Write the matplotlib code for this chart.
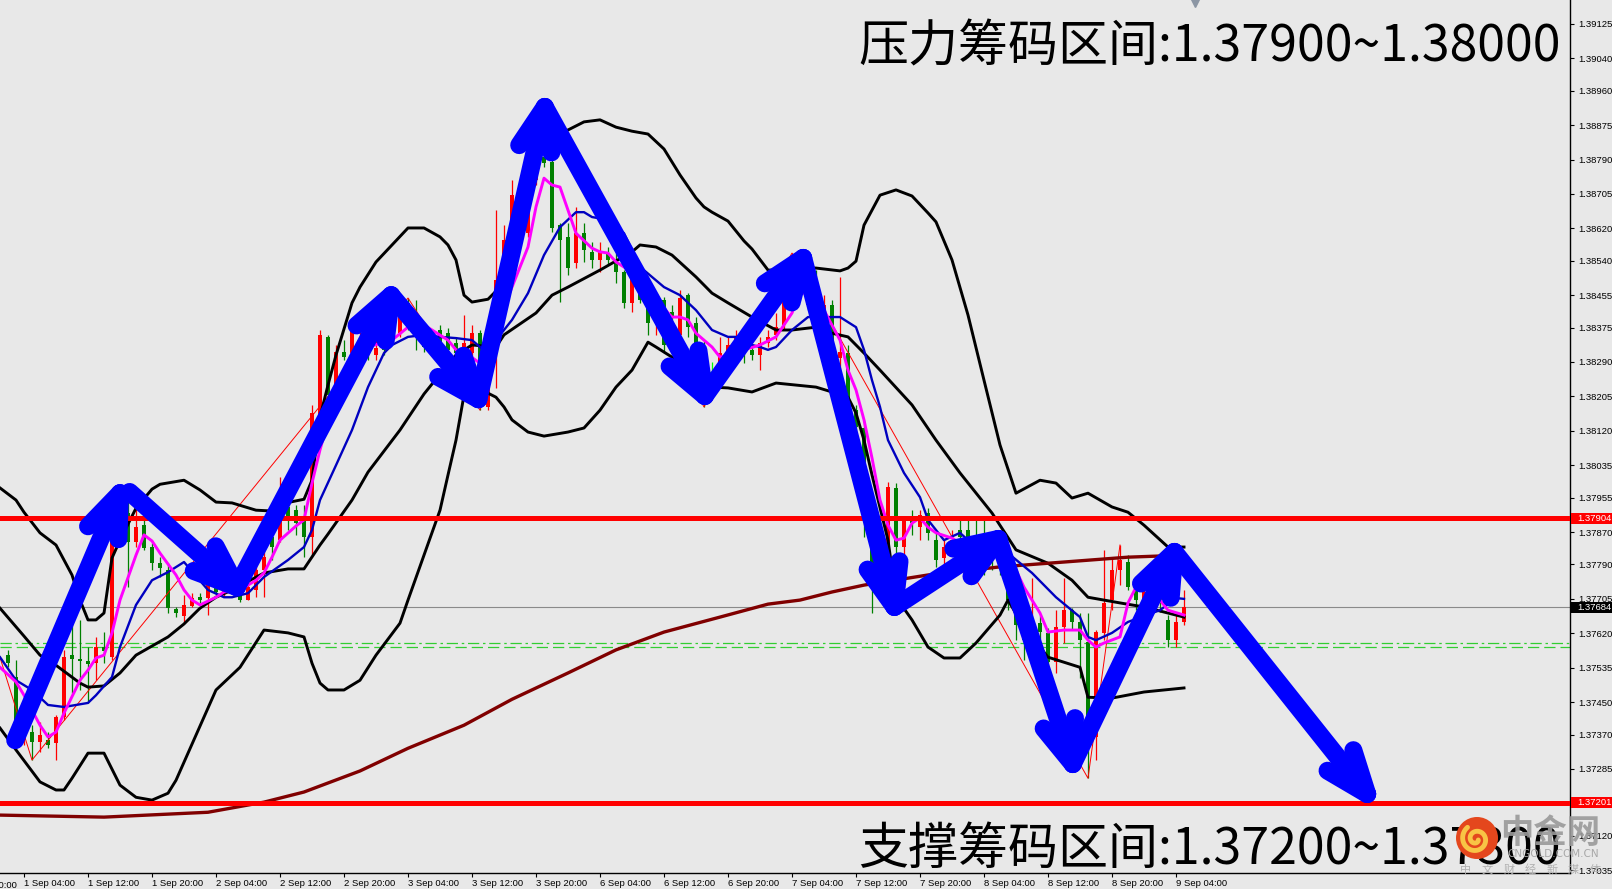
import numpy as np
import matplotlib
matplotlib.use("Agg")
import matplotlib.pyplot as plt
import matplotlib.transforms as mtransforms
from matplotlib.patches import Rectangle, Circle

plt.rcParams['font.family'] = ['Liberation Sans', 'DejaVu Sans']
CJK = ['Noto Sans CJK SC', 'DejaVu Sans']
BG = '#e8e8e8'

# H1 candles, bar 3 = 1 Sep 04:00
bars = np.arange(1, 149)
opens = [1.37566,1.37512,1.37356,1.37376,1.37351,1.37356,1.37349,1.37413,1.37566,1.37556,
         1.37551,1.37546,1.37586,1.37561,1.37900,1.37917,1.37845,1.37887,1.37833,1.37793,
         1.37776,1.37680,1.37662,1.37687,1.37709,1.37707,1.37732,1.37722,1.37737,1.37714,
         1.37702,1.37727,1.37776,1.37858,1.37850,1.37932,1.37924,1.37900,1.37858,1.38147,
         1.38352,1.38228,1.38315,1.38312,1.38369,1.38344,1.38307,1.38332,1.38361,1.38361,
         1.38436,1.38406,1.38361,1.38327,1.38369,1.38361,1.38337,1.38312,1.38312,1.38361,
         1.38179,1.38312,1.38480,1.38591,1.38702,1.38608,1.38740,1.38796,1.38784,1.38628,
         1.38599,1.38534,1.38608,1.38562,1.38542,1.38559,1.38534,1.38512,1.38436,1.38493,
         1.38448,1.38386,1.38443,1.38413,1.38357,1.38455,1.38386,1.38327,1.38265,1.38270,
         1.38312,1.38327,1.38337,1.38320,1.38307,1.38337,1.38357,1.38381,1.38450,1.38517,
         1.38468,1.38443,1.38394,1.38431,1.38300,1.38312,1.38171,1.38127,1.37858,1.37714,
         1.37826,1.37979,1.37833,1.37900,1.37882,1.37917,1.37850,1.37806,1.37826,1.37875,
         1.37875,1.37858,1.37850,1.37838,1.37818,1.37776,1.37685,1.37648,1.37603,1.37645,
         1.37621,1.37549,1.37635,1.37677,1.37648,1.37598,1.37364,1.37621,1.37702,1.37776,
         1.37796,1.37734,1.37702,1.37714,1.37727,1.37653,1.37603,1.37648]
highs = [1.37578,1.37554,1.37418,1.37393,1.37401,1.37376,1.37418,1.37578,1.37645,1.37653,
         1.37586,1.37611,1.37623,1.37887,1.37974,1.37966,1.37932,1.37907,1.37843,1.37808,
         1.37793,1.37685,1.37714,1.37719,1.37719,1.37744,1.37746,1.37751,1.37746,1.37727,
         1.37751,1.37788,1.37826,1.37887,1.38006,1.37949,1.37937,1.37937,1.38184,1.38369,
         1.38357,1.38332,1.38344,1.38399,1.38413,1.38369,1.38344,1.38357,1.38374,1.38431,
         1.38448,1.38443,1.38381,1.38361,1.38381,1.38374,1.38352,1.38406,1.38381,1.38369,
         1.38238,1.38665,1.38628,1.38740,1.38727,1.38702,1.38875,1.38905,1.38801,1.38633,
         1.38633,1.38673,1.38633,1.38586,1.38586,1.38574,1.38559,1.38517,1.38525,1.38500,
         1.38468,1.38448,1.38450,1.38431,1.38468,1.38460,1.38401,1.38344,1.38290,1.38352,
         1.38352,1.38369,1.38352,1.38332,1.38352,1.38369,1.38411,1.38468,1.38559,1.38537,
         1.38505,1.38517,1.38455,1.38443,1.38500,1.38332,1.38184,1.38147,1.37875,1.37838,
         1.37994,1.37991,1.37907,1.37924,1.37924,1.37929,1.37868,1.37850,1.37875,1.37900,
         1.37900,1.37900,1.37900,1.37850,1.37838,1.37801,1.37702,1.37702,1.37756,1.37665,
         1.37633,1.37677,1.37756,1.37682,1.37670,1.37670,1.37628,1.37826,1.37806,1.37838,
         1.37813,1.37751,1.37739,1.37739,1.37739,1.37665,1.37672,1.37727]
lows = [1.37536,1.37344,1.37344,1.37307,1.37327,1.37336,1.37307,1.37406,1.37472,1.37480,
        1.37448,1.37504,1.37546,1.37554,1.37850,1.37734,1.37833,1.37826,1.37776,1.37759,
        1.37670,1.37660,1.37645,1.37685,1.37695,1.37665,1.37712,1.37709,1.37717,1.37697,
        1.37702,1.37709,1.37709,1.37801,1.37845,1.37875,1.37863,1.37808,1.37808,1.38134,
        1.38196,1.38216,1.38295,1.38300,1.38357,1.38295,1.38295,1.38307,1.38344,1.38352,
        1.38369,1.38320,1.38315,1.38315,1.38315,1.38302,1.38295,1.38302,1.38300,1.38171,
        1.38171,1.38226,1.38468,1.38579,1.38653,1.38599,1.38727,1.38771,1.38611,1.38438,
        1.38505,1.38522,1.38537,1.38522,1.38512,1.38529,1.38485,1.38423,1.38413,1.38436,
        1.38357,1.38357,1.38312,1.38389,1.38344,1.38352,1.38307,1.38179,1.38246,1.38258,
        1.38302,1.38320,1.38287,1.38295,1.38270,1.38327,1.38344,1.38369,1.38443,1.38443,
        1.38418,1.38369,1.38381,1.38320,1.38263,1.38171,1.38097,1.37858,1.37670,1.37702,
        1.37801,1.37818,1.37734,1.37863,1.37850,1.37850,1.37784,1.37788,1.37813,1.37830,
        1.37838,1.37801,1.37764,1.37776,1.37764,1.37677,1.37603,1.37554,1.37591,1.37603,
        1.37524,1.37522,1.37596,1.37628,1.37509,1.37262,1.37307,1.37603,1.37677,1.37739,
        1.37727,1.37677,1.37690,1.37702,1.37672,1.37586,1.37586,1.37640]
closes = [1.37546,1.37349,1.37401,1.37351,1.37368,1.37344,1.37413,1.37561,1.37556,1.37551,
          1.37544,1.37586,1.37576,1.37868,1.37870,1.37845,1.37882,1.37830,1.37793,1.37781,
          1.37682,1.37670,1.37690,1.37707,1.37702,1.37739,1.37722,1.37737,1.37727,1.37702,
          1.37734,1.37776,1.37808,1.37833,1.37907,1.37907,1.37892,1.37858,1.38164,1.38357,
          1.38208,1.38315,1.38302,1.38389,1.38399,1.38312,1.38324,1.38320,1.38352,1.38411,
          1.38381,1.38361,1.38327,1.38344,1.38327,1.38320,1.38312,1.38337,1.38361,1.38189,
          1.38228,1.38493,1.38591,1.38702,1.38665,1.38665,1.38771,1.38781,1.38621,1.38591,
          1.38522,1.38608,1.38567,1.38542,1.38562,1.38542,1.38512,1.38436,1.38512,1.38443,
          1.38386,1.38438,1.38332,1.38401,1.38448,1.38376,1.38327,1.38320,1.38265,1.38312,
          1.38332,1.38352,1.38312,1.38307,1.38337,1.38352,1.38376,1.38450,1.38517,1.38468,
          1.38431,1.38394,1.38431,1.38344,1.38315,1.38179,1.38129,1.37900,1.37784,1.37801,
          1.37981,1.37833,1.37900,1.37892,1.37912,1.37868,1.37801,1.37833,1.37850,1.37858,
          1.37850,1.37838,1.37813,1.37801,1.37784,1.37702,1.37640,1.37603,1.37653,1.37623,
          1.37549,1.37635,1.37677,1.37648,1.37603,1.37356,1.37623,1.37695,1.37776,1.37801,
          1.37734,1.37702,1.37722,1.37727,1.37702,1.37603,1.37648,1.37684]

# Bollinger bands (read at sample bars)
bb_up_bar = [0,2,3,5,7,9,10,11,12,13,14,15,17,19,20,23,25,27,29,32,34,35,38,39,40,41,42,44,45,47,
             51,53,55,56,57,58,59,61,62,63,65,67,69,71,73,75,77,79,81,83,85,87,88,89,91,93,94,96,97,99,
             102,105,106,107,108,110,112,114,116,117,119,121,123,125,127,130,132,134,136,139,141,143,146,148]
bb_up = [1.37979,1.37949,1.37919,1.37868,1.37838,1.37764,1.37702,1.37653,1.37653,1.37670,
         1.37806,1.37850,1.37929,1.37976,1.37988,1.37998,1.37974,1.37944,1.37942,1.37924,
         1.37922,1.37939,1.37951,1.37998,1.38154,1.38233,1.38307,1.38436,1.38475,1.38537,
         1.38621,1.38621,1.38599,1.38579,1.38542,1.38455,1.38438,1.38445,1.38465,1.38500,
         1.38641,1.38789,1.38848,1.38863,1.38883,1.38888,1.38870,1.38860,1.38853,1.38816,
         1.38752,1.38695,1.38673,1.38660,1.38638,1.38589,1.38569,1.38517,1.38517,1.38522,
         1.38522,1.38515,1.38522,1.38539,1.38628,1.38702,1.38715,1.38700,1.38658,1.38636,
         1.38542,1.38406,1.38245,1.38085,1.37966,1.37998,1.37991,1.37954,1.37966,1.37932,
         1.37919,1.37887,1.37833,1.37833]
bb_mid_bar = [0,3,5,7,10,11,13,15,17,21,23,25,27,29,33,36,38,40,41,44,46,50,53,55,57,59,62,63,67,69,
              71,75,79,80,82,84,87,89,91,94,97,99,102,104,106,108,110,114,117,120,124,127,131,134,136,140,143,148]
bb_mid = [1.37682,1.37613,1.37566,1.37541,1.37497,1.37487,1.37490,1.37522,1.37566,1.37611,
          1.37643,1.37682,1.37709,1.37727,1.37769,1.37779,1.37779,1.37838,1.37865,1.37949,
          1.38018,1.38122,1.38211,1.38260,1.38307,1.38332,1.38327,1.38357,1.38411,1.38455,
          1.38475,1.38517,1.38562,1.38579,1.38574,1.38554,1.38500,1.38460,1.38436,1.38401,
          1.38369,1.38369,1.38376,1.38361,1.38352,1.38312,1.38270,1.38184,1.38097,1.38016,
          1.37917,1.37826,1.37793,1.37751,1.37709,1.37695,1.37685,1.37660]
bb_low_bar = [0,2,5,7,8,9,11,13,15,17,19,21,22,27,30,33,36,38,39,40,41,43,45,47,50,51,53,55,56,57,
              58,60,61,62,63,64,66,68,71,73,75,77,79,81,82,84,86,88,89,91,94,97,102,104,106,107,108,109,
              111,112,114,116,118,120,122,125,126,128,131,135,136,139,143,148]
bb_low = [1.37386,1.37332,1.37253,1.37233,1.37233,1.37262,1.37324,1.37324,1.37245,1.37215,
          1.37208,1.37225,1.37257,1.37480,1.37536,1.37628,1.37621,1.37611,1.37546,1.37497,
          1.37480,1.37480,1.37504,1.37566,1.37645,1.37702,1.37813,1.37924,1.38011,1.38097,
          1.38208,1.38221,1.38213,1.38203,1.38179,1.38147,1.38117,1.38107,1.38117,1.38127,
          1.38171,1.38228,1.38270,1.38339,1.38327,1.38302,1.38263,1.38203,1.38228,1.38226,
          1.38216,1.38238,1.38228,1.38216,1.38203,1.38164,1.38097,1.38011,1.37850,1.37709,
          1.37653,1.37586,1.37559,1.37559,1.37596,1.37665,1.37702,1.37635,1.37561,1.37536,
          1.37462,1.37460,1.37475,1.37485]

# moving averages
ma_blue_bar = [0,2,4,6,8,11,12,14,15,17,19,21,23,26,28,29,31,33,36,38,39,40,42,44,46,48,49,51,53,55,
               57,59,60,61,62,64,66,68,70,72,73,74,76,78,80,83,85,87,89,91,92,93,95,96,97,99,101,103,105,107,
               108,109,110,111,113,115,116,118,120,121,122,125,126,129,132,135,136,137,139,141,144,145,147,148]
ma_blue = [1.37561,1.37504,1.37480,1.37443,1.37438,1.37448,1.37467,1.37512,1.37586,1.37690,
           1.37751,1.37771,1.37796,1.37727,1.37709,1.37709,1.37719,1.37759,1.37801,1.37833,
           1.37875,1.37949,1.38035,1.38122,1.38228,1.38312,1.38332,1.38352,1.38357,1.38352,
           1.38349,1.38344,1.38327,1.38312,1.38344,1.38394,1.38460,1.38554,1.38623,1.38660,
           1.38660,1.38648,1.38641,1.38608,1.38525,1.38475,1.38455,1.38418,1.38369,1.38352,
           1.38352,1.38337,1.38327,1.38320,1.38327,1.38369,1.38401,1.38401,1.38401,1.38376,
           1.38320,1.38245,1.38179,1.38097,1.38016,1.37956,1.37900,1.37850,1.37868,1.37850,
           1.37850,1.37838,1.37818,1.37769,1.37709,1.37660,1.37611,1.37603,1.37621,1.37648,
           1.37670,1.37677,1.37707,1.37705]
ma_mag_bar = [0,2,3,5,6,7,8,10,11,12,13,14,15,17,18,19,20,22,23,24,25,27,28,30,32,33,34,35,37,38,
              39,40,42,44,46,48,49,51,53,54,56,57,58,60,61,62,64,66,67,68,69,70,71,72,74,75,76,77,79,81,
              82,84,85,86,87,89,90,92,93,95,97,99,100,102,103,105,106,107,108,109,110,111,112,113,114,115,
              116,117,119,120,122,123,125,126,128,130,131,133,135,136,137,138,140,141,142,144,145,146,148]
ma_mag = [1.37536,1.37500,1.37467,1.37393,1.37364,1.37376,1.37423,1.37504,1.37529,1.37559,
          1.37566,1.37621,1.37702,1.37813,1.37863,1.37848,1.37818,1.37764,1.37727,1.37702,
          1.37690,1.37709,1.37722,1.37727,1.37751,1.37769,1.37808,1.37850,1.37885,1.37900,
          1.37991,1.38073,1.38213,1.38312,1.38327,1.38339,1.38344,1.38376,1.38381,1.38369,
          1.38344,1.38320,1.38315,1.38287,1.38320,1.38376,1.38475,1.38574,1.38673,1.38744,
          1.38727,1.38722,1.38665,1.38608,1.38571,1.38562,1.38559,1.38537,1.38512,1.38487,
          1.38443,1.38401,1.38401,1.38394,1.38361,1.38327,1.38302,1.38312,1.38320,1.38332,
          1.38352,1.38411,1.38460,1.38460,1.38418,1.38344,1.38270,1.38221,1.38147,1.38053,
          1.37949,1.37887,1.37850,1.37855,1.37892,1.37905,1.37882,1.37868,1.37855,1.37843,
          1.37830,1.37826,1.37818,1.37818,1.37734,1.37670,1.37623,1.37628,1.37628,1.37603,
          1.37586,1.37596,1.37611,1.37695,1.37734,1.37734,1.37702,1.37677,1.37665]
ma_long_bar = [0,13,26,33,38,45,51,58,64,71,77,83,90,96,100,104,108,116,125,133,141,148]
ma_long = [1.37171,1.37166,1.37178,1.37203,1.37228,1.37280,1.37336,1.37393,1.37457,1.37522,1.37579,
           1.37623,1.37660,1.37692,1.37702,1.37722,1.37739,1.37764,1.37784,1.37796,1.37808,1.37813]

zigzag_bar = [-2, 4, 51, 60, 68, 88, 99, 136, 140]
zigzag = [1.37687, 1.37307, 1.38448, 1.38171, 1.38905, 1.38179, 1.38559, 1.37262, 1.37838]

# hand-drawn arrows (waypoints: bar, price); stroke 1 = points 0-1, stroke 2 = points 2..end
arrow_bar = [1.9, 15.0, 16.2, 29.6, 48.9, 59.8, 68.1, 88.1, 100.4, 111.8, 124.8, 134.1, 146.8, 170.9]
arrow_price = [1.37356, 1.37966, 1.37969, 1.37734, 1.38455, 1.38198, 1.38920, 1.38206,
               1.38547, 1.37685, 1.37853, 1.37297, 1.37821, 1.37223]

resistance = 1.37904
support = 1.37201
last_price = 1.37684
green_levels = [1.37596, 1.37586]

y_ticks = [1.39125, 1.39040, 1.38960, 1.38875, 1.38790, 1.38705, 1.38620, 1.38540, 1.38455,
           1.38375, 1.38290, 1.38205, 1.38120, 1.38035, 1.37955, 1.37870, 1.37790, 1.37705,
           1.37620, 1.37535, 1.37450, 1.37370, 1.37285, 1.37200, 1.37120, 1.37035]
x_labels = ['1 Sep 04:00', '1 Sep 12:00', '1 Sep 20:00', '2 Sep 04:00', '2 Sep 12:00', '2 Sep 20:00',
            '3 Sep 04:00', '3 Sep 12:00', '3 Sep 20:00', '6 Sep 04:00', '6 Sep 12:00', '6 Sep 20:00',
            '7 Sep 04:00', '7 Sep 12:00', '7 Sep 20:00', '8 Sep 04:00', '8 Sep 12:00', '8 Sep 20:00',
            '9 Sep 04:00']
first_label = '31 Aug 20:00'

W, H = 1612, 889
fig = plt.figure(figsize=(W / 100, H / 100), dpi=100, facecolor=BG)
ax = fig.add_axes([0, 16 / H, 1570 / W, 873 / H])
ax.set_facecolor(BG)
ax.set_xlim(0, 1570 / 8)
ax.set_ylim(1.37028, 1.39184)

# background level lines
ax.axhline(last_price, color='#8a8a8a', lw=0.8, zorder=1)
ax.axhline(green_levels[0], color='#32cd32', lw=0.9, ls=(0, (9, 3, 2, 3)), zorder=1)
ax.axhline(green_levels[1], color='#32cd32', lw=0.9, ls=(0, (9, 4)), zorder=1)

# candles
o = np.array(opens); c = np.array(closes); hi = np.array(highs); lo = np.array(lows)
cols = np.where(c > o, '#ff0000', np.where(c < o, '#008000', '#00ff00'))
ax.vlines(bars, lo, hi, colors=cols, lw=0.9, zorder=2)
ax.bar(bars, c - o, bottom=o, width=0.62, color=cols, linewidth=0, zorder=2)
doji = c == o
ax.hlines(o[doji], bars[doji] - 0.35, bars[doji] + 0.35, colors='#00ff00', lw=0.9, zorder=2)

# indicators
ax.plot(zigzag_bar, zigzag, color='#ff0000', lw=0.7, zorder=3)
for xs, ys in [(bb_up_bar, bb_up), (bb_mid_bar, bb_mid), (bb_low_bar, bb_low)]:
    ax.plot(xs, ys, color='black', lw=2.1, zorder=4, solid_joinstyle='round')
ax.plot(ma_long_bar, ma_long, color='#800000', lw=2.4, zorder=4)
ax.plot(ma_blue_bar, ma_blue, color='#0000c0', lw=1.7, zorder=5)
ax.plot(ma_mag_bar, ma_mag, color='#ff00ff', lw=2.1, zorder=6)

ax.axhline(resistance, color='#ff0000', lw=3.6, zorder=7)
ax.axhline(support, color='#ff0000', lw=3.6, zorder=7)

# arrows
ARROW = '#0000ff'
LW = 18 * 72 / 100
akw = dict(color=ARROW, lw=LW, solid_capstyle='round', solid_joinstyle='round', zorder=8)


def head(tip, src, length=46, spread=21):
    to_px = ax.transData.transform
    from_px = ax.transData.inverted().transform
    pt = to_px(tip)
    ps = to_px(src)
    d = (ps - pt) / np.hypot(*(ps - pt))
    for s in (spread, -spread):
        a = np.radians(s)
        rot = np.array([[np.cos(a), -np.sin(a)], [np.sin(a), np.cos(a)]])
        end = from_px(pt + rot @ d * length)
        ax.plot([tip[0], end[0]], [tip[1], end[1]], **akw)


for a, b in [(0, 2), (2, len(arrow_bar))]:
    ax.plot(arrow_bar[a:b], arrow_price[a:b], **akw)
    for k in range(a + 1, b):
        head((arrow_bar[k], arrow_price[k]), (arrow_bar[k - 1], arrow_price[k - 1]))

# axes styling
for s in ['left', 'top']:
    ax.spines[s].set_visible(False)
for s in ['right', 'bottom']:
    ax.spines[s].set_color('black')
    ax.spines[s].set_linewidth(1.0)
ax.yaxis.tick_right()
ax.set_yticks(y_ticks)
ax.set_yticklabels([f'{v:.5f}' for v in y_ticks])
ax.tick_params(axis='y', direction='out', length=3, width=0.8, pad=3, labelsize=6.8)
x_ticks = np.arange(3, 148, 8)
ax.set_xticks(x_ticks)
ax.set_xticklabels(x_labels, ha='left')
ax.tick_params(axis='x', direction='out', length=3, width=0.8, pad=1.5, labelsize=6.8)
xtr = mtransforms.blended_transform_factory(ax.transData, ax.transAxes)
ax.text(x_ticks[0] - 8 + 0.15, -0.0095, first_label, transform=xtr, fontsize=6.8,
        ha='left', va='top', clip_on=False)

# price tags on the scale
tag = mtransforms.blended_transform_factory(fig.transFigure, ax.transData)
tag_h = 11 * (ax.get_ylim()[1] - ax.get_ylim()[0]) / 873
for val, fc in [(resistance, '#ff0000'), (support, '#ff0000'), (last_price, '#000000')]:
    ax.add_patch(Rectangle((1571 / W, val - tag_h / 2), 41 / W, tag_h, transform=tag,
                           facecolor=fc, edgecolor='none', clip_on=False, zorder=10))
    ax.text(1577 / W, val, f'{val:.5f}', transform=tag, color='white', fontsize=6.8,
            ha='left', va='center', clip_on=False, zorder=11)

# overlay for annotations and watermark (pixel coordinates)
ov = fig.add_axes([0, 0, 1, 1], facecolor='none')
ov.set_xlim(0, W)
ov.set_ylim(H, 0)
ov.axis('off')
ov.plot(1195, 3, marker='v', ms=6, color='#8c96a4', zorder=5)
ov.text(1561, 47, '压力筹码区间:1.37900~1.38000', ha='right', va='center',
        fontsize=36, family=CJK, color='black', zorder=10)
ov.text(1561, 850, '支撑筹码区间:1.37200~1.37300', ha='right', va='center',
        fontsize=36, family=CJK, color='black', zorder=10)

cx, cy = 1477, 838
ov.add_patch(Circle((cx, cy), 21, facecolor='#e4471d', edgecolor='none', zorder=20))
t = np.linspace(0.4, 3.3 * np.pi, 80)
r = 2 + 1.2 * t
ov.plot(cx - 1 + r * np.cos(t), cy + 1 + r * np.sin(t), color='#f8c445', lw=3.5,
        solid_capstyle='round', zorder=21)
ov.text(1550, 834, '中金网', ha='center', va='center', fontsize=24, fontweight='bold',
        family=CJK, color='#9a9a9a', alpha=0.9, zorder=20)
ov.text(1553, 854, 'CNGOLD.COM.CN', ha='center', va='center', fontsize=7.5,
        family=['DejaVu Sans'], color='#a8a8a8', zorder=20)
for k, ch in enumerate('中文财经新媒体'):
    ov.text(1466 + k * 21.5, 870, ch, ha='center', va='center', fontsize=8,
            family=CJK, color='#b0b0b0', zorder=20)

fig.savefig('out.png', dpi=100, facecolor=BG)
